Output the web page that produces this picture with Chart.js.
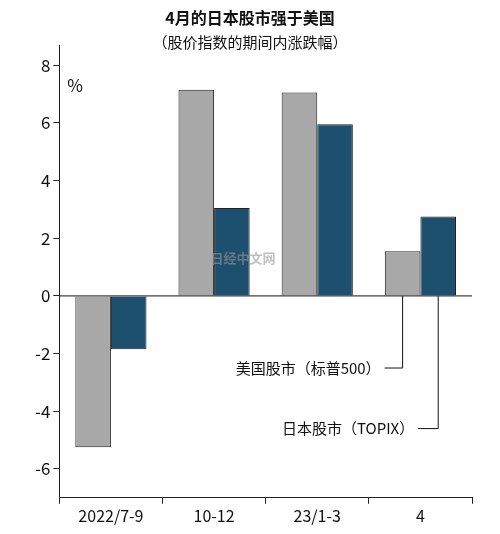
<!DOCTYPE html>
<html><head><meta charset="utf-8">
<script src="https://cdn.jsdelivr.net/npm/chart.js@4"></script>
<style>body{margin:0;background:#fff}#w{width:500px;height:534px}</style>
</head><body><div id="w"><canvas id="c"></canvas></div>
<script>
const categories = ["2022/7-9","10-12","23/1-3","4"];
const usValues = [-5.25, 7.15, 7.05, 1.55];
const jpValues = [-1.85, 3.05, 5.95, 2.75];
const yTicks = [-6,-4,-2,0,2,4,6,8];
const usLabel = "美国股市（标普500）";
const jpLabel = "日本股市（TOPIX）";
const F = "'Noto Sans CJK SC', 'Noto Sans', sans-serif";

const overlay = {
  id:'overlay',
  afterDraw(chart){
    const {ctx, scales:{x,y}} = chart;
    ctx.save();
    ctx.fillStyle='#111'; ctx.font='bold 16px '+F; ctx.textAlign='center'; ctx.textBaseline='middle';
    ctx.fillText("4月的日本股市强于美国", 250, 18);
    ctx.font='15px '+F;
    ctx.fillText("（股价指数的期间内涨跌幅）", 250, 42);
    ctx.font='17px '+F; ctx.textAlign='left';
    ctx.fillText("%", x.left+8, y.getPixelForValue(7.3));
    ctx.font='bold 13px '+F; ctx.fillStyle='rgba(150,150,150,0.6)'; ctx.textAlign='center';
    ctx.fillText("日经中文网", 243, 258);
    const m0 = chart.getDatasetMeta(0).data[3], m1 = chart.getDatasetMeta(1).data[3];
    ctx.strokeStyle='#111'; ctx.lineWidth=1; ctx.fillStyle='#111'; ctx.font='15px '+F; ctx.textAlign='right';
    const y1 = y.getPixelForValue(-2.5), y2 = y.getPixelForValue(-4.6);
    ctx.beginPath(); ctx.moveTo(m0.x-18,y1); ctx.lineTo(m0.x,y1); ctx.lineTo(m0.x, y.getPixelForValue(0)); ctx.stroke();
    ctx.fillText(usLabel, m0.x-22, y1);
    ctx.beginPath(); ctx.moveTo(m1.x-20,y2); ctx.lineTo(m1.x,y2); ctx.lineTo(m1.x, y.getPixelForValue(0)); ctx.stroke();
    ctx.fillText(jpLabel, m1.x-24, y2);
    ctx.beginPath(); ctx.moveTo(x.left,y.getPixelForValue(0)); ctx.lineTo(x.right,y.getPixelForValue(0)); ctx.stroke();
    ctx.restore();
  }
};

new Chart(document.getElementById('c'), {
  type:'bar',
  data:{labels:categories, datasets:[
    {data:usValues, backgroundColor:'#a8a8a8', borderColor:'#222', borderWidth:1, barPercentage:1, categoryPercentage:0.69},
    {data:jpValues, backgroundColor:'#1d4f6e', borderColor:'#222', borderWidth:1, barPercentage:1, categoryPercentage:0.69}
  ]},
  options:{
    responsive:true, maintainAspectRatio:false, animation:false,
    layout:{padding:{top:45,right:28,left:32,bottom:5}},
    plugins:{legend:{display:false}, tooltip:{enabled:false}},
    scales:{
      x:{grid:{display:true, drawOnChartArea:false, offset:true, color:'#222', tickLength:6},
         border:{color:'#222'},
         ticks:{color:'#111', font:{size:16, family:F}}},
      y:{min:-7, max:8.7,
         afterBuildTicks(s){ s.ticks = yTicks.map(v=>({value:v})); },
         grid:{display:true, drawOnChartArea:false, color:'#222', tickLength:6},
         border:{color:'#222'},
         ticks:{color:'#111', font:{size:17, family:F}, callback:v=>String(v)}}
    }
  },
  plugins:[overlay]
});
</script></body></html>
